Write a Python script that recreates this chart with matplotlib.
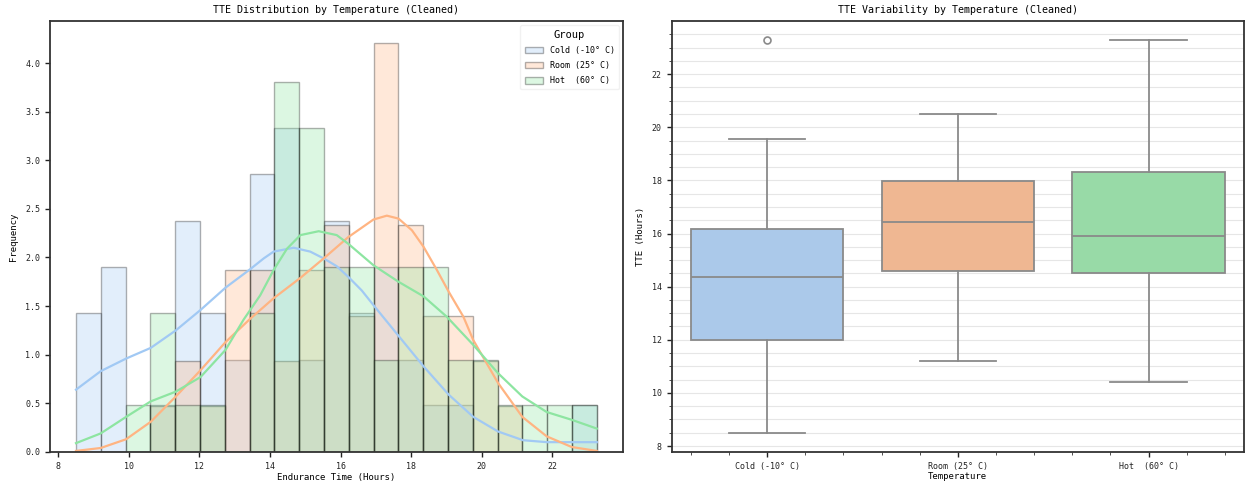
import numpy as np
import matplotlib
matplotlib.use('Agg')
import matplotlib.pyplot as plt
from matplotlib.ticker import MultipleLocator
from matplotlib.patches import Patch
import seaborn as sns

plt.rcParams['font.family'] = ['DejaVu Sans Mono', 'DejaVu Sans']

# groups and colours (seaborn pastel)
groups = ['Cold (-10° C)', 'Room (25° C)', 'Hot  (60° C)']
box_labels = ['Cold (-10° C)', 'Room (25° C)', 'Hot  (60° C)']
colors = ['#a1c9f4', '#ffb482', '#8de5a1']

# histogram: 21 shared bins between data min and max
bin_lo, bin_hi, n_bins = 8.5, 23.26, 21
cold_hist = [1.43, 1.90, 0.00, 0.48, 2.38, 1.43, 0.95, 2.86, 3.33, 0.95, 2.38,
             1.43, 1.90, 0.95, 0.48, 0.48, 0.00, 0.00, 0.00, 0.00, 0.48]
room_hist = [0.00, 0.00, 0.00, 0.47, 0.93, 0.47, 1.87, 1.87, 0.93, 1.87, 2.33,
             1.40, 4.21, 2.33, 1.40, 1.40, 0.93, 0.47, 0.00, 0.00, 0.00]
hot_hist = [0.00, 0.00, 0.48, 1.43, 0.48, 0.48, 0.00, 1.43, 3.81, 3.33, 1.90,
            1.90, 0.95, 1.90, 1.90, 0.95, 0.95, 0.48, 0.48, 0.48, 0.48]

# kde curves
cold_kde_x = [8.5, 9.2, 9.92, 10.62, 11.33, 12.03, 12.74, 13.44, 13.82, 14.1, 14.67,
              15.14, 15.52, 15.89, 16.22, 16.6, 16.93, 17.65, 18.35, 19.06, 19.76,
              20.46, 21.17, 21.85, 22.55, 23.26]
cold_kde_y = [0.64, 0.83, 0.96, 1.07, 1.25, 1.46, 1.69, 1.88, 1.99, 2.06, 2.10,
              2.06, 1.99, 1.91, 1.80, 1.66, 1.51, 1.19, 0.88, 0.59, 0.36,
              0.21, 0.12, 0.10, 0.10, 0.10]
room_kde_x = [8.5, 9.2, 9.92, 10.62, 11.33, 12.03, 12.74, 13.44, 14.1, 14.86, 15.52,
              16.22, 16.93, 17.31, 17.64, 18.02, 18.35, 18.73, 19.06, 19.48, 19.76,
              20.46, 21.15, 21.84, 22.55, 23.26]
room_kde_y = [0.01, 0.04, 0.13, 0.31, 0.57, 0.84, 1.13, 1.37, 1.58, 1.79, 1.99,
              2.21, 2.39, 2.43, 2.40, 2.28, 2.11, 1.87, 1.65, 1.39, 1.15,
              0.71, 0.36, 0.16, 0.05, 0.01]
hot_kde_x = [8.5, 9.2, 9.92, 10.62, 11.33, 12.03, 12.74, 13.25, 13.72, 14.1, 14.48,
             14.86, 15.38, 15.89, 16.22, 16.93, 17.64, 18.35, 19.01, 19.76, 20.46,
             21.15, 21.84, 22.55, 23.26]
hot_kde_y = [0.09, 0.19, 0.36, 0.52, 0.62, 0.77, 1.05, 1.36, 1.61, 1.87, 2.09,
             2.23, 2.27, 2.23, 2.14, 1.92, 1.75, 1.60, 1.39, 1.10, 0.81,
             0.57, 0.41, 0.33, 0.24]

# boxplot stats
box_q1 = [11.99, 14.58, 14.52]
box_med = [14.35, 16.42, 15.92]
box_q3 = [16.17, 17.98, 18.30]
box_wlo = [8.49, 11.20, 10.40]
box_whi = [19.56, 20.51, 23.28]
box_fliers = [[23.30], [], []]

fig = plt.figure(figsize=(12.47, 4.88), dpi=100)
ax1 = fig.add_axes([0.040, 0.074, 0.4595, 0.8825])
ax2 = fig.add_axes([0.5386, 0.074, 0.459, 0.8825])

spine_c = '#333333'
for ax in (ax1, ax2):
    for s in ax.spines.values():
        s.set_color(spine_c)
        s.set_linewidth(1.3)
    ax.tick_params(direction='out', colors='#222222', labelsize=6, length=3.5, width=1)

################################################################################
# histogram + kde
edges = np.linspace(bin_lo, bin_hi, n_bins + 1)
width = edges[1] - edges[0]
hists = [cold_hist, room_hist, hot_hist]
for h, c in zip(hists, colors):
    ax1.bar(edges[:-1], h, width, align='edge', color=c, edgecolor='black',
            linewidth=1, alpha=0.3)
kdes = [(cold_kde_x, cold_kde_y), (room_kde_x, room_kde_y), (hot_kde_x, hot_kde_y)]
for (kx, ky), c in zip(kdes, colors):
    ax1.plot(kx, ky, color=c, linewidth=1.6, solid_joinstyle='round')

ax1.set_xticks(np.arange(8, 23, 2))
ax1.yaxis.set_major_locator(MultipleLocator(0.5))
ax1.set_xlim(7.76, 24.0)
ax1.set_ylim(0, 4.43)
ax1.set_title('TTE Distribution by Temperature (Cleaned)', fontsize=7.2, pad=6)
ax1.set_xlabel('Endurance Time (Hours)', fontsize=6.5, labelpad=2)
ax1.set_ylabel('Frequency', fontsize=6.5, labelpad=5)

handles = [Patch(facecolor=c, edgecolor='black', alpha=0.3, linewidth=1) for c in colors]
leg = ax1.legend(handles, groups, title='Group', loc='upper right', fontsize=6,
                 title_fontsize=7.5, frameon=True, framealpha=0.8, edgecolor='#eeeeee',
                 handlelength=2.2, handleheight=0.8, labelspacing=0.75, borderpad=0.5,
                 handletextpad=0.8)

################################################################################
# boxplot
stats = []
for i in range(3):
    stats.append(dict(med=box_med[i], q1=box_q1[i], q3=box_q3[i], whislo=box_wlo[i],
                      whishi=box_whi[i], fliers=box_fliers[i], label=box_labels[i]))
line_c = '#8a8a8a'
bp = ax2.bxp(stats, positions=[0, 1, 2], widths=0.8, capwidths=0.4, patch_artist=True,
             boxprops=dict(edgecolor=line_c, linewidth=1.3),
             medianprops=dict(color=line_c, linewidth=1.3),
             whiskerprops=dict(color=line_c, linewidth=1.3),
             capprops=dict(color=line_c, linewidth=1.3),
             flierprops=dict(marker='o', markerfacecolor='none', markeredgecolor=line_c,
                             markersize=5, markeredgewidth=1.2))
for patch, c in zip(bp['boxes'], colors):
    patch.set_facecolor(sns.desaturate(c, 0.75))
    patch.set_zorder(2)

ax2.set_xlim(-0.5, 2.5)
ax2.set_ylim(7.78, 23.99)
ax2.yaxis.set_major_locator(MultipleLocator(2))
ax2.yaxis.set_minor_locator(MultipleLocator(0.5))
ax2.xaxis.set_minor_locator(MultipleLocator(0.2))
ax2.tick_params(which='minor', direction='out', length=2, color='#333333')
ax2.grid(True, axis='y', which='both', color='#e6e6e6', linewidth=0.8)
ax2.set_axisbelow(True)
ax2.set_title('TTE Variability by Temperature (Cleaned)', fontsize=7.2, pad=6)
ax2.set_xlabel('Temperature', fontsize=6.5, labelpad=1)
ax2.set_ylabel('TTE (Hours)', fontsize=6.5, labelpad=5)

plt.savefig('out.png', dpi=100)
